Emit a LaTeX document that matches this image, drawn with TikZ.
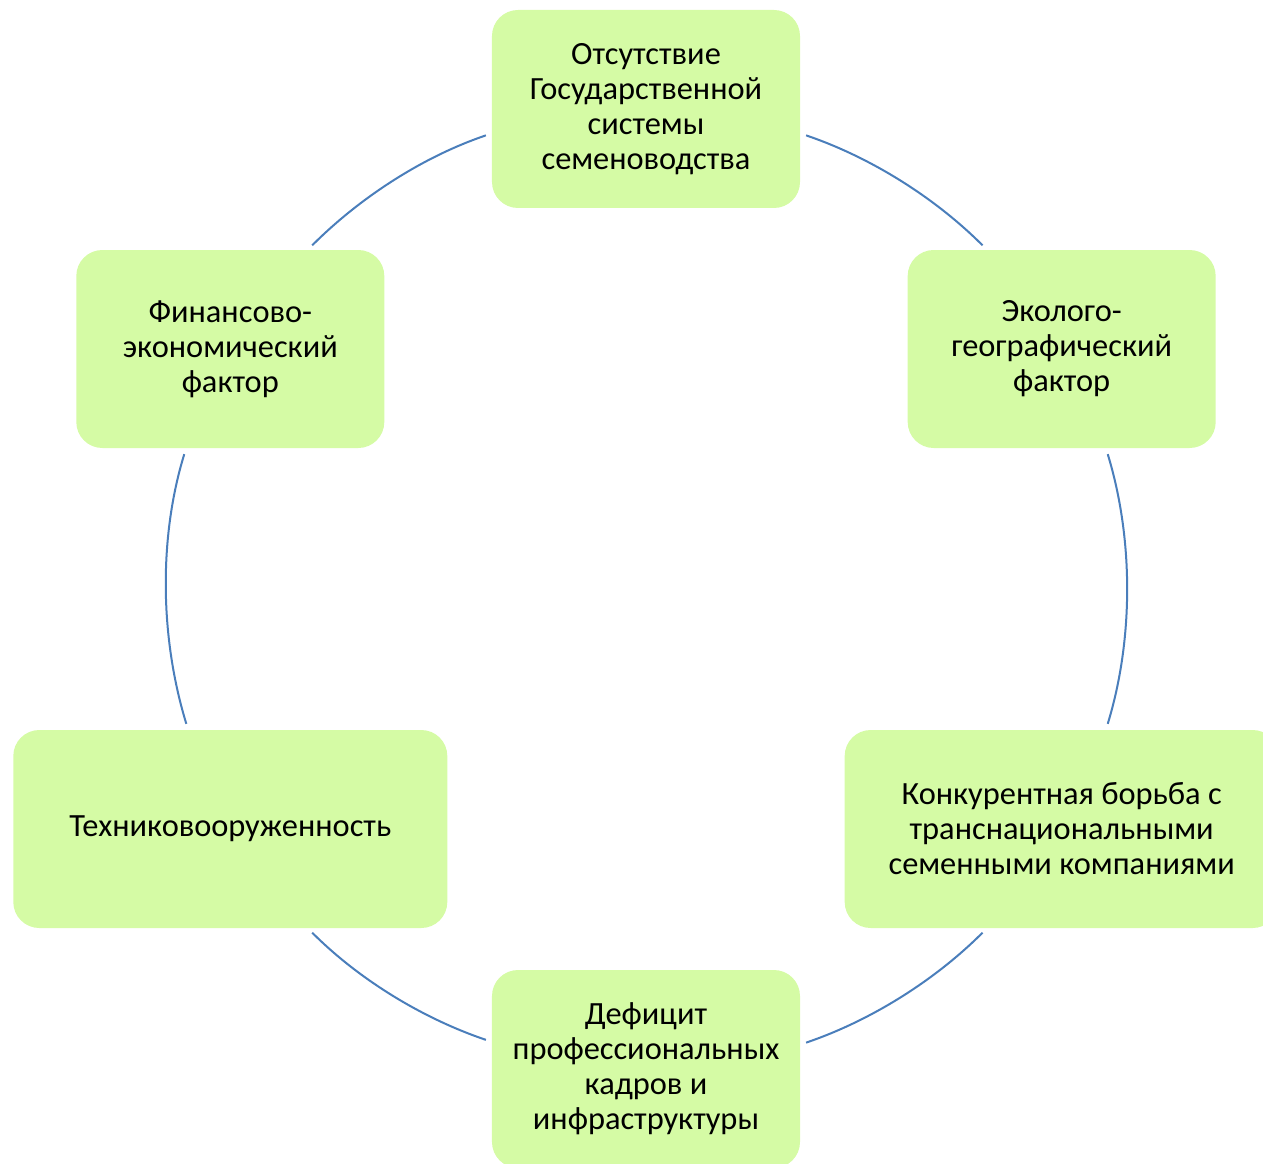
\documentclass[tikz,border=0pt]{standalone}
\usepackage{fontspec}
\setmainfont{Carlito}
\definecolor{boxgreen}{RGB}{213,251,165}
\definecolor{ringblue}{RGB}{74,126,187}

\begin{document}
\begin{tikzpicture}[
  factor/.style={fill=boxgreen, rounded corners=13pt, inner sep=0pt,
    minimum width=154pt, minimum height=99pt, align=center,
    font=\fontsize{16.2}{17.5}\selectfont},
  widefactor/.style={factor, minimum width=217pt},
  ring/.style={draw=ringblue, line width=1pt, looseness=0.86,
    shorten <=3pt, shorten >=3pt}]
  \useasboundingbox (-323pt,-287pt) rectangle (308.5pt,294.5pt);

  \node[factor] (top) at (90:240pt) {Отсутствие\\Государственной\\системы\\семеноводства};
  \node[factor] (ur) at (30:240pt) {Эколого-\\географический\\фактор};
  \node[widefactor] (lr) at (-30:240pt) {Конкурентная борьба с\\транснациональными\\семенными компаниями};
  \node[factor] (bot) at (-90:240pt) {Дефицит\\профессиональных\\кадров и\\инфраструктуры};
  \node[widefactor] (ll) at (210:240pt) {Техниковооруженность};
  \node[factor] (ul) at (150:240pt) {Финансово-\\экономический\\фактор};

  \draw[ring] (top.-9.33) to[out=-18.7, in=134.93] (ur.127.48);
  \draw[ring] (ur.-66.47) to[out=-72.93, in=72.93] (lr.66.47);
  \draw[ring] (lr.-127.48) to[out=-134.93, in=18.7] (bot.9.33);
  \draw[ring] (bot.170.67) to[out=161.3, in=-45.07] (ll.-52.52);
  \draw[ring] (ll.113.53) to[out=107.07, in=252.93] (ul.246.47);
  \draw[ring] (ul.52.52) to[out=45.07, in=198.7] (top.189.33);
\end{tikzpicture}
\end{document}
